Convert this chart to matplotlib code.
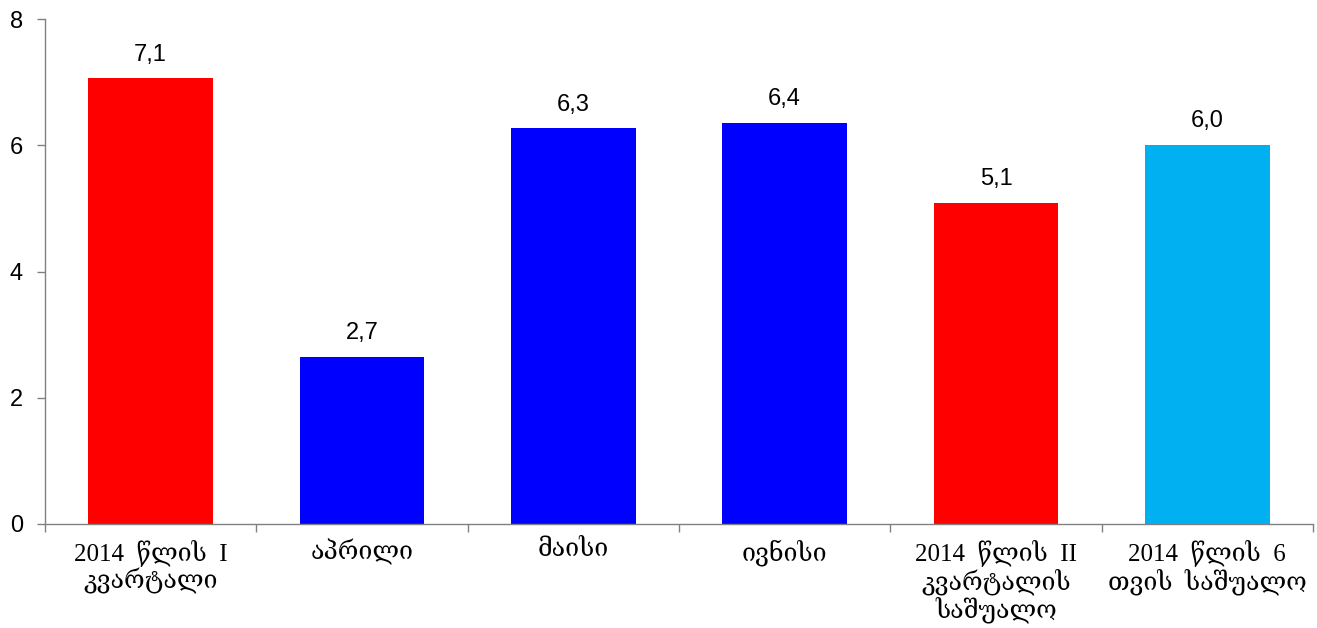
import matplotlib
matplotlib.use("Agg")
import matplotlib.pyplot as plt
import numpy as np

categories = ["2014  წლის  I\nკვარტალი", "აპრილი", "მაისი", "ივნისი",
              "2014  წლის  II\nკვარტალის\nსაშუალო", "2014  წლის  6\nთვის  საშუალო"]
values = [7.06, 2.65, 6.27, 6.36, 5.09, 6.01]
value_labels = ["7,1", "2,7", "6,3", "6,4", "5,1", "6,0"]
colors = ["#FF0000", "#0000FF", "#0000FF", "#0000FF", "#FF0000", "#00B0F0"]
yticks = [0, 2, 4, 6, 8]

fig = plt.figure(figsize=(13.17, 6.28), dpi=100)
ax = fig.add_axes([45/1317, 1-524/628, (1313-45)/1317, (524-19)/628])

x = np.arange(len(categories))
ax.bar(x, values, width=0.59, color=colors, zorder=2)
ax.set_xlim(-0.5, len(categories)-0.5)
ax.set_ylim(0, 8)
ax.set_yticks(yticks)
ax.set_yticklabels([str(t) for t in yticks], fontsize=17, family=["Liberation Sans", "DejaVu Sans"])
ax.tick_params(axis="y", length=6, width=1, color="#808080", pad=10)

for xi, v, lab in zip(x, values, value_labels):
    ax.annotate(lab, (xi, v), xytext=(0, 9), textcoords="offset points",
                ha="center", va="bottom", fontsize=17,
                family=["Liberation Sans", "DejaVu Sans"])

# category boundary ticks
ax.set_xticks(np.arange(-0.5, len(categories)), minor=False)
ax.set_xticklabels([])
ax.tick_params(axis="x", which="major", length=6, width=1, color="#808080")
ax.set_xticks(x, minor=True)
ax.set_xticklabels(categories, minor=True, fontsize=18,
                   family=["Liberation Serif", "DejaVu Serif", "DejaVu Sans"],
                   linespacing=1.1)
ax.tick_params(axis="x", which="minor", length=0, pad=11)

for s in ["top", "right"]:
    ax.spines[s].set_visible(False)
for s in ["left", "bottom"]:
    ax.spines[s].set_color("#808080")
    ax.spines[s].set_linewidth(1)

fig.savefig("out.png", dpi=100)
